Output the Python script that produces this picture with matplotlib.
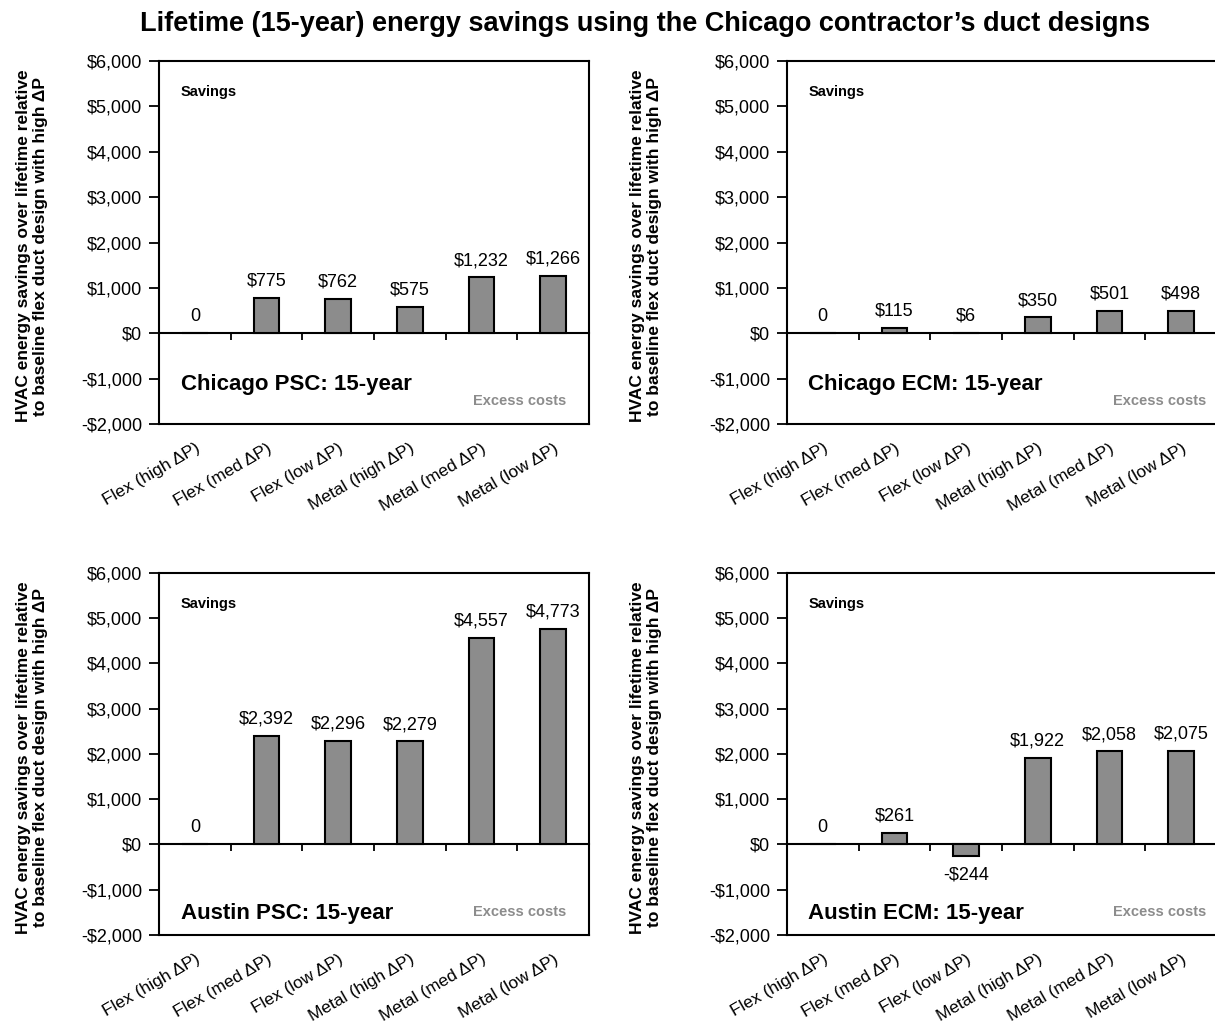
import matplotlib
matplotlib.use('Agg')
import matplotlib.pyplot as plt
import numpy as np
from matplotlib.ticker import FuncFormatter

plt.rcParams['font.family'] = ['Liberation Sans', 'DejaVu Sans']

categories = ['Flex (high ΔP)', 'Flex (med ΔP)', 'Flex (low ΔP)',
              'Metal (high ΔP)', 'Metal (med ΔP)', 'Metal (low ΔP)']

chicago_psc = [0, 775, 762, 575, 1232, 1266]
chicago_ecm = [0, 115, 6, 350, 501, 498]
austin_psc = [0, 2392, 2296, 2279, 4557, 4773]
austin_ecm = [0, 261, -244, 1922, 2058, 2075]

panel_titles = ['Chicago PSC: 15-year', 'Chicago ECM: 15-year',
                'Austin PSC: 15-year', 'Austin ECM: 15-year']

y_ticks = [-2000, -1000, 0, 1000, 2000, 3000, 4000, 5000, 6000]

ylabel_text = 'HVAC energy savings over lifetime relative\nto baseline flex duct design with high ΔP'


def money(v, pos=None):
    if v < 0:
        return '-${:,.0f}'.format(-v)
    return '${:,.0f}'.format(v)


def bar_label(v):
    if v == 0:
        return '0'
    return money(v)


fig = plt.figure(figsize=(12.15, 10.28), dpi=100)

# axes boxes (left, bottom, width, height) in figure fraction
boxes = [
    (0.1309, 0.5875, 0.3539, 0.3531),
    (0.6477, 0.5875, 0.3539, 0.3531),
    (0.1309, 0.0905, 0.3539, 0.3521),
    (0.6477, 0.0905, 0.3539, 0.3521),
]
excess_x = [0.947, 0.974, 0.947, 0.974]
ylabel_x = [-0.258, -0.29, -0.258, -0.29]
name_y = [0.110, 0.110, 0.058, 0.058]
series = [chicago_psc, chicago_ecm, austin_psc, austin_ecm]

x = np.arange(len(categories))

for i, (box, vals, name) in enumerate(zip(boxes, series, panel_titles)):
    ax = fig.add_axes(box)
    ax.bar(x, vals, width=0.36, color='#8c8c8c', edgecolor='black', linewidth=1.5, zorder=3)
    ax.set_xlim(-0.5, 5.5)
    ax.set_ylim(-2000, 6000)
    ax.set_yticks(y_ticks)
    ax.yaxis.set_major_formatter(FuncFormatter(money))
    ax.tick_params(axis='y', direction='out', length=7, width=1.3, labelsize=13, pad=5)
    ax.set_xticks(x)
    ax.set_xticklabels(categories, rotation=30, ha='right', rotation_mode='anchor')
    ax.tick_params(axis='x', length=0, labelsize=12.5, pad=12)
    for sp in ax.spines.values():
        sp.set_linewidth(1.5)

    # zero line with ticks between categories
    sec = ax.secondary_xaxis(0.25)
    sec.set_xticks(np.arange(-0.5, 6, 1))
    sec.tick_params(axis='x', direction='out', length=5, width=1.3, labelbottom=False)
    sec.spines['bottom'].set_linewidth(1.5)

    for xi, v in zip(x, vals):
        if v < 0:
            ax.annotate(bar_label(v), (xi, v), xytext=(0, -8), textcoords='offset points',
                        ha='center', va='top', fontsize=13)
        else:
            ax.annotate(bar_label(v), (xi, v), xytext=(0, 6), textcoords='offset points',
                        ha='center', va='bottom', fontsize=13)

    ax.text(0.05, 0.915, 'Savings', transform=ax.transAxes, fontsize=10.5,
            fontweight='bold', va='center', ha='left')
    ax.text(excess_x[i], 0.063, 'Excess costs', transform=ax.transAxes, fontsize=10.5,
            fontweight='bold', color='#8c8c8c', va='center', ha='right')
    ax.text(0.05, name_y[i], name, transform=ax.transAxes, fontsize=16,
            fontweight='bold', va='center', ha='left')

    ax.set_ylabel(ylabel_text, fontsize=12.5, fontweight='bold', linespacing=1.15)
    ax.yaxis.set_label_coords(ylabel_x[i], 0.49)

fig.text(0.531, 0.977, 'Lifetime (15-year) energy savings using the Chicago contractor\u2019s duct designs',
         ha='center', va='center', fontsize=19.5, fontweight='bold')

fig.savefig('out.png', dpi=100)
